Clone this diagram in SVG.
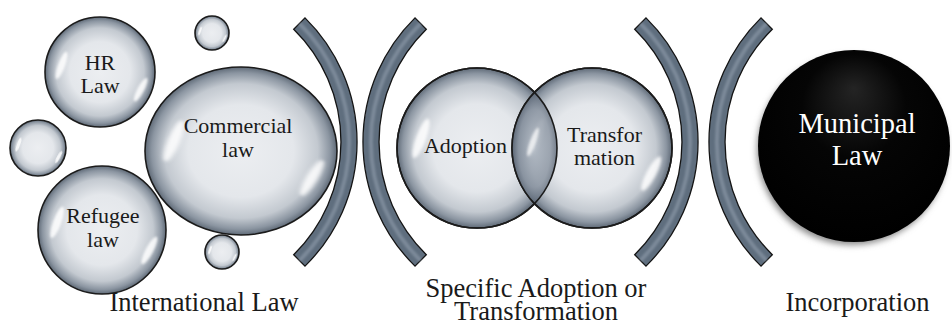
<svg xmlns="http://www.w3.org/2000/svg" width="952" height="326" viewBox="0 0 952 326">
<defs>
  <style>
    text { font-family: "Liberation Serif", "Times New Roman", serif; fill: #1a1a1a; text-anchor: middle; }
    .lbl { font-size: 22px; }
    .big { font-size: 26.5px; }
    .muni { font-size: 28.5px; fill: #ffffff; }
    .brk { fill: #5f6e7e; stroke: #141414; stroke-width: 1.3; }
    .brkhl { fill: none; stroke: #94a1b0; stroke-width: 4; opacity: 0.55; filter: url(#soft); }
    .rim { fill: none; stroke: #1b1b1b; stroke-width: 1.6; }
  </style>
  <radialGradient id="bub" cx="0.5" cy="0.5" r="0.5">
    <stop offset="0" stop-color="#eceef1"/>
    <stop offset="0.55" stop-color="#e4e7eb"/>
    <stop offset="0.8" stop-color="#c3c9d0"/>
    <stop offset="0.93" stop-color="#8b95a1"/>
    <stop offset="1" stop-color="#5f6a77"/>
  </radialGradient>
  <radialGradient id="lens" cx="0.5" cy="0.5" r="0.5">
    <stop offset="0" stop-color="#a9b2bd"/>
    <stop offset="0.7" stop-color="#8993a0"/>
    <stop offset="1" stop-color="#5a6574"/>
  </radialGradient>
  <radialGradient id="muniG" cx="0.5" cy="0.4" r="0.6" fx="0.5" fy="0.2">
    <stop offset="0" stop-color="#242424"/>
    <stop offset="0.45" stop-color="#050505"/>
    <stop offset="1" stop-color="#000000"/>
  </radialGradient>
  <filter id="soft" x="-50%" y="-50%" width="200%" height="200%">
    <feGaussianBlur stdDeviation="1"/>
  </filter>
  <filter id="shadow" x="-20%" y="-20%" width="140%" height="140%">
    <feGaussianBlur stdDeviation="3"/>
  </filter>
  <g id="bubble">
    <circle r="50" fill="url(#bub)" stroke="#1b1b1b" stroke-width="1.6" vector-effect="non-scaling-stroke"/>
    <ellipse cx="-35" cy="-6" rx="3.2" ry="13" transform="rotate(20 -35 -6)" fill="#ffffff" opacity="0.85" filter="url(#soft)"/>
    <ellipse cx="37" cy="16" rx="3" ry="12" transform="rotate(28 37 16)" fill="#ffffff" opacity="0.85" filter="url(#soft)"/>
  </g>
</defs>

<rect width="952" height="326" fill="#ffffff"/>

<g id="brackets">
  <path class="brk" d="M305,17.9 A174,174 0 0 1 305,266.1 L293.7,254.7 A158,158 0 0 0 293.7,29.3 Z"/>
  <path class="brkhl" d="M299.5,23.6 A166,166 0 0 1 299.5,260.4"/>
  <path class="brk" d="M415,17.9 A174,174 0 0 0 415,266.1 L426.3,254.7 A158,158 0 0 1 426.3,29.3 Z"/>
  <path class="brkhl" d="M420.5,23.6 A166,166 0 0 0 420.5,260.4"/>
  <g transform="translate(341,0)">
    <path class="brk" d="M305,17.9 A174,174 0 0 1 305,266.1 L293.7,254.7 A158,158 0 0 0 293.7,29.3 Z"/>
    <path class="brkhl" d="M299.5,23.6 A166,166 0 0 1 299.5,260.4"/>
  </g>
  <g transform="translate(346,0)">
    <path class="brk" d="M415,17.9 A174,174 0 0 0 415,266.1 L426.3,254.7 A158,158 0 0 1 426.3,29.3 Z"/>
    <path class="brkhl" d="M420.5,23.6 A166,166 0 0 0 420.5,260.4"/>
  </g>
</g>

<g id="hr-law">
  <use href="#bubble" transform="translate(100,72) scale(1.1)"/>
  <text class="lbl" x="100" y="70">HR</text>
  <text class="lbl" x="100" y="93">Law</text>
</g>
<g id="small-top"><use href="#bubble" transform="translate(212,33) scale(0.34)"/></g>
<g id="small-left"><use href="#bubble" transform="translate(38,148) scale(0.56)"/></g>
<g id="small-bottom"><use href="#bubble" transform="translate(222,252) scale(0.34)"/></g>
<g id="refugee-law">
  <use href="#bubble" transform="translate(102,230) scale(1.28)"/>
  <text class="lbl" x="103" y="223">Refugee</text>
  <text class="lbl" x="103" y="247">law</text>
</g>
<g id="commercial-law">
  <use href="#bubble" transform="translate(241,151) scale(1.92,1.68)"/>
  <text class="lbl" x="238" y="133">Commercial</text>
  <text class="lbl" x="238" y="157">law</text>
</g>

<g id="adoption">
  <use href="#bubble" transform="translate(477,148) scale(1.6)"/>
  <text class="lbl" x="465.5" y="153">Adoption</text>
</g>
<g id="transformation">
  <use href="#bubble" transform="translate(592,148) scale(1.6)"/>
  <path d="M534.5,92.4 A80,80 0 0 1 534.5,203.6 A80,80 0 0 1 534.5,92.4 Z" fill="url(#lens)" opacity="0.8"/>
  <ellipse cx="533" cy="142" rx="3" ry="15" transform="rotate(20 533 142)" fill="#ffffff" opacity="0.7" filter="url(#soft)"/>
  <circle class="rim" cx="477" cy="148" r="80"/>
  <circle class="rim" cx="592" cy="148" r="80"/>
  <text class="lbl" x="604.5" y="142">Transfor</text>
  <text class="lbl" x="604.5" y="165">mation</text>
</g>

<g id="municipal-law">
  <circle cx="852" cy="150" r="95" fill="#8a8a8a" filter="url(#shadow)"/>
  <circle cx="854" cy="146" r="96" fill="url(#muniG)"/>
  <text class="muni" x="857" y="133">Municipal</text>
  <text class="muni" x="857" y="165">Law</text>
</g>

<g id="captions">
  <text class="big" x="204" y="311">International Law</text>
  <text class="big" x="536" y="297">Specific Adoption or</text>
  <text class="big" x="536" y="320">Transformation</text>
  <text class="big" x="857.5" y="311">Incorporation</text>
</g>
</svg>
